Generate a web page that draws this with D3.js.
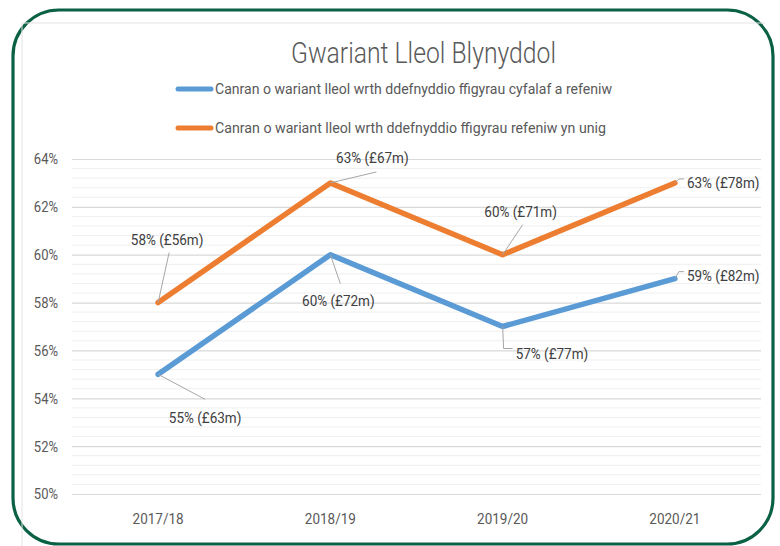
<!DOCTYPE html>
<html><head><meta charset="utf-8">
<script src="https://cdn.jsdelivr.net/npm/d3@7"></script>
<style>body{margin:0;background:#fff}svg{display:block}text{font-family:Roboto,"Liberation Sans",sans-serif}</style>
</head><body><svg id="c" width="780" height="546"></svg>
<script>
const categories = ["2017/18", "2018/19", "2019/20", "2020/21"];
const seriesNames = [
  "Canran o wariant lleol wrth ddefnyddio ffigyrau cyfalaf a refeniw",
  "Canran o wariant lleol wrth ddefnyddio ffigyrau refeniw yn unig"
];
const capitalRevenue = [55, 60, 57, 59];
const capitalRevenueLabels = ["55% (£63m)", "60% (£72m)", "57% (£77m)", "59% (£82m)"];
const revenueOnly = [58, 63, 60, 63];
const revenueOnlyLabels = ["58% (£56m)", "63% (£67m)", "60% (£71m)", "63% (£78m)"];
const yTicks = [50, 52, 54, 56, 58, 60, 62, 64];
const colors = ["#5b9bd5", "#ed7d31"];

// label placement offsets (layout, relative to the point)
const labelLayout = [
  [ {dx:47, dy:43, a:"middle", lead:[[0,0],[47,25]]},
    {dx:8,  dy:46, a:"middle", lead:[[0,0],[10,29]]},
    {dx:13, dy:27, a:"start",  lead:[[0,0],[1,22],[10,22]]},
    {dx:12, dy:-3, a:"start",  lead:[[0,0],[4,-7],[9,-7]]} ],
  [ {dx:9,  dy:-63, a:"middle", lead:[[0,0],[11,-50]]},
    {dx:42, dy:-25, a:"middle", lead:[[0,0],[46,-11]]},
    {dx:18, dy:-43, a:"middle", lead:[[0,0],[20,-30]]},
    {dx:12, dy:0,   a:"start",  lead:[[0,0],[4,-4],[9,-4]]} ]
];

function condense(sel, f){
  sel.each(function(){ const w=this.getComputedTextLength(); d3.select(this).attr("textLength", w*f).attr("lengthAdjust","spacingAndGlyphs"); });
}

const svg = d3.select("#c");
svg.append("rect").attr("x",13).attr("y",10).attr("width",760).attr("height",534)
  .attr("rx",46).attr("ry",46).attr("fill","#fff").attr("stroke","#0b6146").attr("stroke-width",3.2);
svg.append("path").attr("d","M22,546 L22,23 L765,23").attr("fill","none").attr("stroke","#e3e3e3").attr("stroke-width",1);

const x = d3.scaleBand().domain(categories).range([72, 761]);
const y = d3.scaleLinear().domain([50, 64]).range([494, 159]);

const minor = d3.range(50, 64.0001, 0.4).filter(v => Math.abs(v/2 - Math.round(v/2)) > 0.01);
svg.append("g").selectAll("line").data(minor).join("line")
  .attr("x1",72).attr("x2",761).attr("y1",d=>y(d)).attr("y2",d=>y(d))
  .attr("stroke","#efefef").attr("stroke-width",1);

const yAxis = d3.axisLeft(y).tickValues(yTicks).tickFormat(d=>d+"%").tickSize(-689).tickPadding(14);
const gy = svg.append("g").attr("transform","translate(72,0)").call(yAxis);
gy.select(".domain").remove();
gy.selectAll(".tick line").attr("stroke","#d9d9d9").attr("stroke-width",1.2);
gy.selectAll(".tick text").attr("fill","#595959").style("font-size","15.5px").attr("x",-14);
condense(gy.selectAll(".tick text"), 0.84);

const xAxis = d3.axisBottom(x).tickSize(0).tickPadding(19);
const gx = svg.append("g").attr("transform","translate(0,494)").call(xAxis);
gx.select(".domain").remove();
gx.selectAll(".tick text").attr("fill","#595959").style("font-size","15.5px");
condense(gx.selectAll(".tick text"), 0.87);

svg.append("text").attr("x",291).attr("y",63).attr("fill","#595959")
  .style("font-size","29px").style("font-weight",300)
  .attr("textLength",265).attr("lengthAdjust","spacingAndGlyphs").text("Gwariant Lleol Blynyddol");

const legY = [89, 128], legW = [397, 391];
seriesNames.forEach((n,i) => {
  svg.append("line").attr("x1",178).attr("x2",211).attr("y1",legY[i]).attr("y2",legY[i])
    .attr("stroke",colors[i]).attr("stroke-width",5).attr("stroke-linecap","round");
  svg.append("text").attr("x",215).attr("y",legY[i]+5).attr("fill","#595959")
    .style("font-size","14.5px").attr("textLength",legW[i]).attr("lengthAdjust","spacingAndGlyphs").text(n);
});

const line = d3.line().x((d,i)=>x(categories[i])+x.bandwidth()/2).y(d=>y(d));
const allSeries = [capitalRevenue, revenueOnly];
const allLabels = [capitalRevenueLabels, revenueOnlyLabels];

allSeries.forEach((s,si) => {
  svg.append("path").datum(s).attr("d",line).attr("fill","none")
    .attr("stroke",colors[si]).attr("stroke-width",5.5).attr("stroke-linejoin","round").attr("stroke-linecap","round");
});

allSeries.forEach((s,si) => {
  s.forEach((v,i) => {
    const px = x(categories[i])+x.bandwidth()/2, py = y(v);
    const L = labelLayout[si][i];
    svg.append("path").attr("d", d3.line()(L.lead.map(p=>[px+p[0], py+p[1]])))
      .attr("fill","none").attr("stroke","#a6a6a6").attr("stroke-width",1);
    const t = svg.append("text").attr("x",px+L.dx).attr("y",py+L.dy+5.5).attr("text-anchor",L.a)
      .attr("fill","#404040").style("font-size","15px").text(allLabels[si][i]);
    condense(t, 0.9);
  });
});
</script></body></html>
